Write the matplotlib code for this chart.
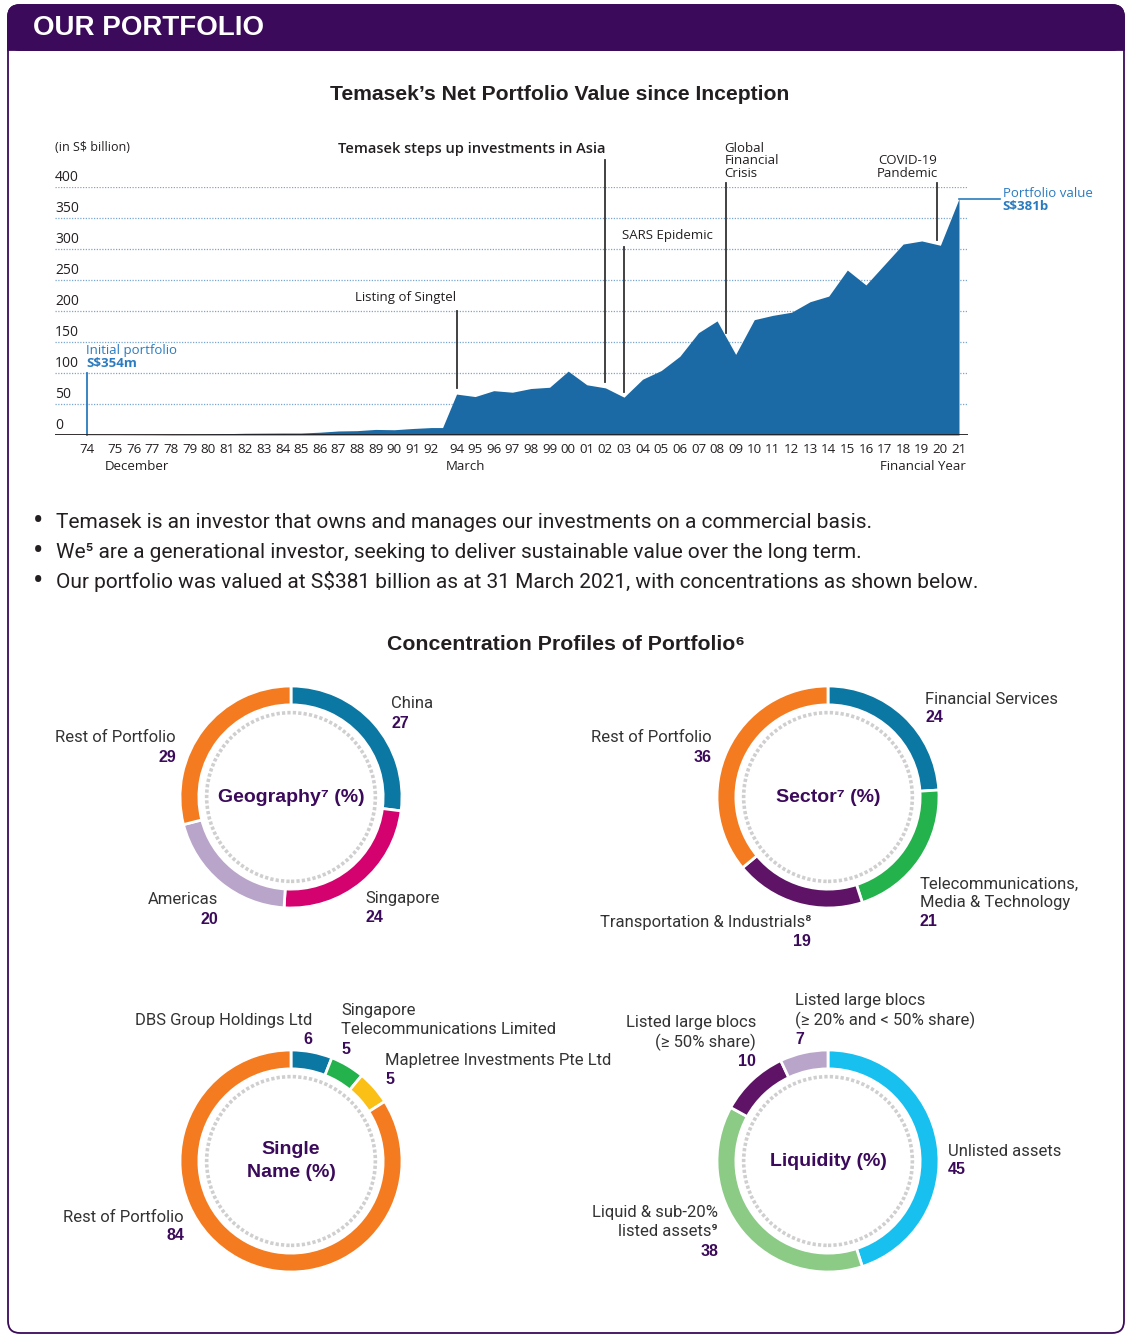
import matplotlib
matplotlib.use("Agg")
import matplotlib.pyplot as plt
from matplotlib.patches import FancyBboxPatch, Rectangle, Circle

W, H = 1135, 1336

# ---- net portfolio value (S$ billion) ----
dec_years = ['74', '75', '76', '77', '78', '79', '80', '81', '82', '83', '84',
             '85', '86', '87', '88', '89', '90', '91', '92']
dec_values = [0.354, 0.4, 0.5, 0.6, 0.8, 1.0, 1.5, 2.2, 2.8, 3.0, 3.2,
              3.2, 4.5, 6.5, 7.0, 9.0, 8.5, 10.5, 12.0]
mar93_value = 12.0
mar_years = ['94', '95', '96', '97', '98', '99', '00', '01', '02', '03', '04',
             '05', '06', '07', '08', '09', '10', '11', '12', '13', '14', '15',
             '16', '17', '18', '19', '20', '21']
mar_values = [66, 62, 71.5, 69, 75, 77, 103, 81, 76, 61, 90,
              104, 127, 165, 184, 130, 186, 193, 198, 215, 224, 266,
              242, 275, 308, 313, 306, 381]

# chart time axis (decimal years as spaced on the chart)
dec_pos = [1973.5] + [1975 + i for i in range(len(dec_years) - 1)]
mar93_pos = 1992.6
mar_pos = [1993.35 + i for i in range(len(mar_years))]

# ---- concentration profiles (%) ----
geo_labels = ['China', 'Singapore', 'Americas', 'Rest of Portfolio']
geo_values = [27, 24, 20, 29]
geo_colors = ['#0b77a3', '#d4026f', '#b9a5c9', '#f47b20']

sector_labels = ['Financial Services', 'Telecommunications,\nMedia & Technology',
                 'Transportation & Industrials\u2078', 'Rest of Portfolio']
sector_values = [24, 21, 19, 36]
sector_colors = ['#0b77a3', '#23b24b', '#5f1367', '#f47b20']

single_labels = ['DBS Group Holdings Ltd', 'Singapore\nTelecommunications Limited',
                 'Mapletree Investments Pte Ltd', 'Rest of Portfolio']
single_values = [6, 5, 5, 84]
single_colors = ['#0b77a3', '#23b24b', '#fbc015', '#f47b20']

liq_labels = ['Unlisted assets', 'Liquid & sub-20%\nlisted assets\u2079',
              'Listed large blocs\n(\u2265 50% share)',
              'Listed large blocs\n(\u2265 20% and < 50% share)']
liq_values = [45, 38, 10, 7]
liq_colors = ['#17c0ef', '#8bcb86', '#5f1367', '#b9a5c9']

PURPLE = '#3b0a5a'
DARK = '#231f20'
BLUE = '#2a7bbf'
FILL = '#1b6aa5'
CHART_FONT = ['Open Sans', 'Noto Sans', 'DejaVu Sans']
BODY_FONT = ['Roboto', 'DejaVu Sans']
HEAD_FONT = ['Liberation Sans', 'DejaVu Sans']

fig = plt.figure(figsize=(W / 100, H / 100), dpi=100)

# overlay in pixel coordinates for frame and free text
ov = fig.add_axes([0, 0, 1, 1])
ov.set_xlim(0, W)
ov.set_ylim(H, 0)
ov.axis('off')

ov.add_patch(FancyBboxPatch((8, 5), 1116, 1328, boxstyle='round,pad=0,rounding_size=12',
                            fc='white', ec=PURPLE, lw=1.3))
ov.add_patch(FancyBboxPatch((8, 5), 1116, 45, boxstyle='round,pad=0,rounding_size=12',
                            fc=PURPLE, ec=PURPLE, lw=1.3))
ov.add_patch(Rectangle((8, 30), 1116, 20, fc=PURPLE, ec=PURPLE, lw=1.3))
ov.text(33, 28, 'OUR PORTFOLIO', color='white', fontsize=20, fontweight='bold',
        family=HEAD_FONT, va='center', ha='left')

ov.text(560, 95, 'Temasek\u2019s Net Portfolio Value since Inception', fontsize=15.2,
        fontweight='bold', family=HEAD_FONT, color=DARK, ha='center', va='center')

# ---- area chart ----
px_per_year = 18.59
x_left = 1975 - (115 - 55) / px_per_year
x_right = mar_pos[-1] + (968 - 959) / px_per_year
ax = fig.add_axes([55 / W, 1 - 435 / H, 913 / W, 248 / H])
ax.set_facecolor('none')
ax.set_xlim(x_left, x_right)
ax.set_ylim(0, 400)
for s in ax.spines.values():
    s.set_visible(False)

xs = dec_pos + [mar93_pos] + mar_pos
ys = dec_values + [mar93_value] + mar_values
ax.fill_between(xs, ys, 0, color=FILL, lw=0, zorder=2)

for v in range(50, 401, 50):
    ax.axhline(v, color='#7aa7d0', lw=0.9, ls=(0, (1, 1.2)), zorder=1)
ax.axhline(0, color=DARK, lw=1.3, zorder=3)
for v in range(0, 401, 50):
    ax.annotate(str(v), xy=(0, v), xycoords=('axes fraction', 'data'),
                xytext=(0, 7), textcoords='offset points', ha='left', va='center',
                fontsize=10, family=CHART_FONT, color=DARK)
ax.set_yticks([])
ax.set_xticks(dec_pos + mar_pos)
ax.set_xticklabels(dec_years + mar_years, fontsize=9.6, family=CHART_FONT, color=DARK)
ax.tick_params(axis='x', length=0, pad=6)

ax.text(0, 463, '(in S$ billion)', transform=ax.get_yaxis_transform(), fontsize=9,
        family=CHART_FONT, color=DARK, ha='left', va='center', clip_on=False)
ax.text(1976.2, -51, 'December', fontsize=9.5, family=CHART_FONT, color=DARK, ha='center', va='center')
ax.text(1993.85, -51, 'March', fontsize=9.5, family=CHART_FONT, color=DARK, ha='center', va='center')
ax.text(2020.7, -51, 'Financial Year', fontsize=9.5, family=CHART_FONT, color=DARK, ha='right', va='center')

line_kw = dict(color='#333333', lw=1.3, zorder=4, clip_on=False)
txt_kw = dict(family=CHART_FONT, color=DARK, clip_on=False, linespacing=0.95)

# initial portfolio
ax.plot([dec_pos[0], dec_pos[0]], [0, 100], color=BLUE, lw=1.3, clip_on=False)
ax.text(dec_pos[0] - 0.05, 137, 'Initial portfolio', fontsize=9.5, family=CHART_FONT,
        color=BLUE, ha='left', va='center')
ax.text(dec_pos[0] - 0.05, 116, 'S$354m', fontsize=9.5, family=CHART_FONT,
        color=BLUE, ha='left', va='center', fontweight='bold')

# Singtel listing
ax.plot([mar_pos[0]] * 2, [76, 200], **line_kw)
ax.text(mar_pos[0], 221, 'Listing of Singtel', ha='right', va='center', fontsize=9.5, **txt_kw)

# Asia
ax.plot([mar_pos[8]] * 2, [85, 443], **line_kw)
ax.text(mar_pos[8], 461, 'Temasek steps up investments in Asia', ha='right', va='center',
        fontsize=10.5, fontweight='semibold', **txt_kw)

# SARS
ax.plot([mar_pos[9]] * 2, [69, 303], **line_kw)
ax.text(mar_pos[9] - 0.1, 321, 'SARS Epidemic', ha='left', va='center', fontsize=9.5, **txt_kw)

# GFC
gfc_x = (mar_pos[14] + mar_pos[15]) / 2
ax.plot([gfc_x] * 2, [165, 406], **line_kw)
ax.text(gfc_x - 0.1, 442, 'Global\nFinancial\nCrisis', ha='left', va='center', fontsize=9.5, **txt_kw)

# COVID
cov_x = mar_pos[25] + 0.8
ax.plot([cov_x] * 2, [314, 406], **line_kw)
ax.text(cov_x + 0.05, 432, 'COVID-19\nPandemic', ha='right', va='center', fontsize=9.5, **txt_kw)

# final value
ax.plot([mar_pos[-1], mar_pos[-1] + 2.2], [mar_values[-1]] * 2, color=BLUE, lw=1.2, clip_on=False)
ax.text(mar_pos[-1] + 2.35, 389, 'Portfolio value', fontsize=9.5, family=CHART_FONT,
        color=BLUE, ha='left', va='center', clip_on=False)
ax.text(mar_pos[-1] + 2.35, 368, 'S$381b', fontsize=9.5, family=CHART_FONT,
        color=BLUE, ha='left', va='center', fontweight='bold', clip_on=False)

# ---- bullets ----
bullets = ['Temasek is an investor that owns and manages our investments on a commercial basis.',
           'We\u2075 are a generational investor, seeking to deliver sustainable value over the long term.',
           'Our portfolio was valued at S$381 billion as at 31 March 2021, with concentrations as shown below.']
for i, b in enumerate(bullets):
    y = 522 + 30 * i
    ov.text(38, y, '\u2022', fontsize=22, color=DARK, ha='center', va='center', family=BODY_FONT)
    ov.text(56, y, b, fontsize=15, color=DARK, ha='left', va='center', family=BODY_FONT)

ov.text(566, 645, 'Concentration Profiles of Portfolio\u2076', fontsize=15.3, fontweight='bold',
        family=HEAD_FONT, color=DARK, ha='center', va='center')


# ---- donuts ----
def donut(cx, cy, values, colors, title, R=111):
    a = fig.add_axes([(cx - R * 1.05) / W, 1 - (cy + R * 1.05) / H, 2.1 * R / W, 2.1 * R / H])
    a.set_facecolor('none')
    a.pie(values, colors=colors, startangle=90, counterclock=False, radius=1,
          wedgeprops=dict(width=0.17, edgecolor='white', linewidth=2))
    a.add_patch(Circle((0, 0), 0.76, fill=False, ec='#cfcfcf', lw=2.6, ls=(0, (0.9, 0.6))))
    a.set_xlim(-1.05, 1.05)
    a.set_ylim(-1.05, 1.05)
    a.set_aspect('equal')
    a.axis('off')
    a.text(0, 0, title, ha='center', va='center', fontsize=14, fontweight='bold',
           color=PURPLE, family=HEAD_FONT, linespacing=1.45)


def label(x, y, text, value, ha):
    lines = text.split('\n')
    for k, ln in enumerate(lines):
        ov.text(x, y + 19 * k, ln, fontsize=12, color='#333333', ha=ha, va='center',
                family=BODY_FONT)
    ov.text(x, y + 19 * len(lines), str(value), fontsize=11.5, color=PURPLE, ha=ha,
            va='center', fontweight='bold', family=HEAD_FONT)


donut(291, 797, geo_values, geo_colors, 'Geography\u2077 (%)')
label(391, 704, geo_labels[0], geo_values[0], 'left')
label(365, 898, geo_labels[1], geo_values[1], 'left')
label(218, 900, geo_labels[2], geo_values[2], 'right')
label(176, 738, geo_labels[3], geo_values[3], 'right')

donut(828, 797, sector_values, sector_colors, 'Sector\u2077 (%)')
label(925, 699, sector_labels[0], sector_values[0], 'left')
label(920, 884, sector_labels[1], sector_values[1], 'left')
label(811, 922, sector_labels[2], sector_values[2], 'right')
label(712, 738, sector_labels[3], sector_values[3], 'right')

donut(291, 1161, single_values, single_colors, 'Single\nName (%)')
label(312, 1020, single_labels[0], single_values[0], 'right')
label(341, 1011, single_labels[1], single_values[1], 'left')
label(385, 1060, single_labels[2], single_values[2], 'left')
label(184, 1217, single_labels[3], single_values[3], 'right')

donut(828, 1161, liq_values, liq_colors, 'Liquidity (%)')
label(948, 1151, liq_labels[0], liq_values[0], 'left')
label(718, 1213, liq_labels[1], liq_values[1], 'right')
label(756, 1023, liq_labels[2], liq_values[2], 'right')
label(795, 1001, liq_labels[3], liq_values[3], 'left')

fig.savefig('out.png', dpi=100, facecolor='white')
